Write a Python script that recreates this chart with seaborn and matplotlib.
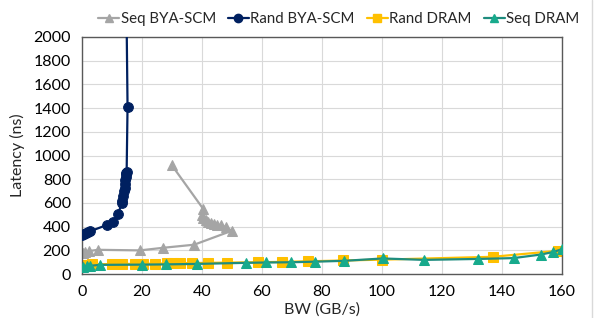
import numpy as np
import pandas as pd
import matplotlib
matplotlib.use("Agg")
import matplotlib.pyplot as plt
import seaborn as sns
from matplotlib.lines import Line2D

# data (BW in GB/s, latency in ns)
seq_scm_bw = [0.2, 1.0, 2.5, 5.4, 19.3, 27.1, 37.4, 49.9, 48.0, 46.5, 45.0, 44.0,
              43.0, 42.0, 41.2, 40.5, 40.0, 40.4, 29.9]
seq_scm_lat = [175, 190, 195, 205, 200, 222, 248, 365, 395, 410, 418, 425,
               432, 440, 455, 475, 500, 550, 920]

rand_scm_bw = [0.1, 0.6, 1.2, 2.1, 2.8, 8.2, 10.4, 12.1, 13.2, 13.5, 13.8, 14.0,
               14.2, 14.4, 14.5, 14.6, 14.7, 14.8, 14.9, 15.2, 14.3]
rand_scm_lat = [329, 338, 345, 357, 362, 413, 441, 506, 597, 620, 660, 700,
                730, 760, 790, 815, 840, 855, 863, 1410, 3500]

rand_dram_bw = [0.4, 1.5, 3.2, 9.9, 13.2, 17.7, 20.5, 24.3, 28.2, 30.4, 32.7, 36.6,
                42.1, 48.2, 58.8, 66.6, 75.4, 87.1, 99.9, 136.9, 158.7]
rand_dram_lat = [78, 80, 82, 85, 86, 86, 87, 88, 90, 91, 92, 93,
                 95, 97, 100, 103, 108, 115, 122, 146, 197]

seq_dram_bw = [0.5, 1.6, 2.7, 6.0, 19.9, 27.9, 38.2, 54.6, 61.2, 69.6, 77.7, 87.4,
               100.2, 114.0, 132.1, 143.8, 152.9, 156.8, 160.0]
seq_dram_lat = [60, 67, 70, 78, 80, 82, 86, 95, 98, 100, 105, 112,
                132, 120, 128, 135, 165, 185, 210]

sns.set_theme(style="white")
plt.rcParams["font.family"] = ["Lato", "DejaVu Sans"]

fig, ax = plt.subplots(figsize=(5.98, 3.18), dpi=100)
fig.subplots_adjust(left=0.137, right=0.94, bottom=0.138, top=0.884)

series = [
    ("Seq BYA-SCM", seq_scm_bw, seq_scm_lat, "#A5A5A5", "#A5A5A5", "^", 7.5, 2),
    ("Rand BYA-SCM", rand_scm_bw, rand_scm_lat, "#002060", "#002060", "o", 7, 3),
    ("Rand DRAM", rand_dram_bw, rand_dram_lat, "#FFC000", "#FFC000", "s", 7.5, 2),
    ("Seq DRAM", seq_dram_bw, seq_dram_lat, "#1E8C7E", "#17AA8C", "^", 7.5, 4),
]

handles = []
for name, xs, ys, lc, mc, mk, ms, z in series:
    df = pd.DataFrame({"bw": xs, "lat": ys})
    sns.lineplot(data=df, x="bw", y="lat", sort=False, estimator=None, ax=ax,
                 color=lc, linewidth=1.6, marker=mk, markersize=ms,
                 markerfacecolor=mc, markeredgecolor=mc, zorder=z, clip_on=True)
    handles.append(Line2D([0], [0], color=lc, linewidth=1.6, marker=mk,
                          markersize=6, markerfacecolor=mc, markeredgecolor=mc,
                          label=name))

ax.set_xlim(0, 160)
ax.set_ylim(0, 2000)
ax.set_xticks(np.arange(0, 161, 20))
ax.set_yticks(np.arange(0, 2001, 200))
ax.grid(True, color="#D9D9D9", linewidth=0.8)
ax.set_axisbelow(True)
for sp in ax.spines.values():
    sp.set_color("#595959")
    sp.set_linewidth(1.0)
ax.tick_params(axis="both", labelsize=11.5, colors="#000000", length=0, pad=8)
ax.set_xlabel("BW (GB/s)", fontsize=11.5, labelpad=2)
ax.set_ylabel("Latency (ns)", fontsize=11.5, labelpad=6)

ax.legend(handles=handles, loc="lower center", bbox_to_anchor=(0.535, 1.0),
          ncol=4, frameon=False, fontsize=10.8, handlelength=1.4,
          handletextpad=0.1, columnspacing=0.8, borderaxespad=0.3)

fig.add_artist(Line2D([0.99, 0.99], [0, 1], color="#D9D9D9", linewidth=1.0))

fig.savefig("out.png", dpi=100)
